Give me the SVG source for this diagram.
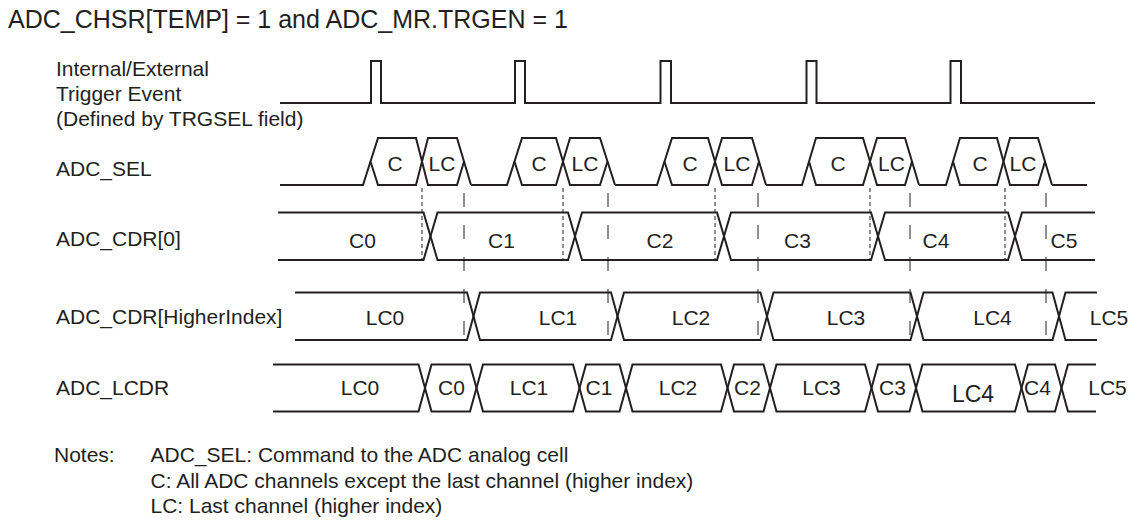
<svg xmlns="http://www.w3.org/2000/svg" width="1137" height="520" viewBox="0 0 1137 520">
<style>
  text { font-family: "Liberation Sans", Arial, sans-serif; fill: #231f20; }
  .lbl { font-size: 21px; }
  .ttl { font-size: 25px; }
  .mid { text-anchor: middle; }
  .wave { fill: none; stroke: #231f20; stroke-width: 2; stroke-linejoin: miter; }
  .sdash { stroke: #231f20; stroke-width: 1; stroke-dasharray: 4 3; fill: none; }
  .ldash { stroke: #231f20; stroke-width: 1; stroke-dasharray: 14 18; fill: none; }
</style>
<rect width="1137" height="520" fill="#ffffff"/>
<text class="ttl" x="8" y="28">ADC_CHSR[TEMP] = 1 and ADC_MR.TRGEN = 1</text>

<g id="trigger">
  <text class="lbl" x="56" y="76">Internal/External</text>
  <text class="lbl" x="56" y="101">Trigger Event</text>
  <text class="lbl" x="56" y="126">(Defined by TRGSEL field)</text>
  <path class="wave" d="M280,103 H371 V61 H381 V103 H515 V61 H525 V103 H660.5 V61 H671 V103 H806.5 V61 H816.5 V103 H950.5 V61 H961 V103 H1095"/>
</g>

<g id="adc_sel">
  <text class="lbl" x="56" y="176">ADC_SEL</text>
  <path class="wave" d="M280,185 H363 L378,138 H416 L428,185 H457 L464,161.5 M471,185 H507 L522,138 H556 L570,185 H600 L607.5,161.5 M615,185 H657 L672,138 H708 L722,185 H752 L759,161.5 M766,185 H802 L816,138 H863 L877,185 H905 L912,161.5 M919,185 H946 L960,138 H997 L1010,185 H1038 L1045,161.5 M1052,185 H1087"/>
  <path class="wave" d="M370.5,161.5 L378,185 H416 L428,138 H457 L471,185 M514.5,161.5 L522,185 H556 L570,138 H600 L615,185 M664.5,161.5 L672,185 H708 L722,138 H752 L766,185 M809,161.5 L816,185 H863 L877,138 H905 L919,185 M953,161.5 L960,185 H997 L1010,138 H1038 L1052,185"/>
  <g class="lbl mid">
    <text x="395" y="170.5">C</text><text x="442" y="170.5">LC</text>
    <text x="539" y="170.5">C</text><text x="585" y="170.5">LC</text>
    <text x="690" y="170.5">C</text><text x="737" y="170.5">LC</text>
    <text x="838" y="170.5">C</text><text x="891.5" y="170.5">LC</text>
    <text x="980" y="170.5">C</text><text x="1023" y="170.5">LC</text>
  </g>
</g>

<g id="adc_cdr0">
  <text class="lbl" x="56" y="246">ADC_CDR[0]</text>
  <polyline class="wave" points="278,212.5 423.5,212.5 437.5,260 568,260 582,212.5 717,212.5 731,260 871,260 885,212.5 1008,212.5 1022,260 1095,260"/>
  <polyline class="wave" points="278,260 423.5,260 437.5,212.5 568,212.5 582,260 717,260 731,212.5 871,212.5 885,260 1008,260 1022,212.5 1095,212.5"/>
  <g class="lbl mid">
    <text x="362.5" y="248">C0</text>
    <text x="501.5" y="248">C1</text>
    <text x="660" y="248">C2</text>
    <text x="797.5" y="248">C3</text>
    <text x="936" y="248">C4</text>
    <text x="1064" y="248">C5</text>
  </g>
</g>

<g id="adc_cdr_hi">
  <text class="lbl" x="56" y="324">ADC_CDR[HigherIndex]</text>
  <polyline class="wave" points="295,292.5 467,292.5 480,340 611,340 624,292.5 760.5,292.5 773.5,340 910.5,340 923.5,292.5 1052.5,292.5 1065.5,340 1097,340"/>
  <polyline class="wave" points="295,340 467,340 480,292.5 611,292.5 624,340 760.5,340 773.5,292.5 910.5,292.5 923.5,340 1052.5,340 1065.5,292.5 1097,292.5"/>
  <g class="lbl mid">
    <text x="385" y="325">LC0</text>
    <text x="558" y="325">LC1</text>
    <text x="691" y="325">LC2</text>
    <text x="846" y="325">LC3</text>
    <text x="992.5" y="325">LC4</text>
    <text x="1109" y="325">LC5</text>
  </g>
</g>

<g id="adc_lcdr">
  <text class="lbl" x="56" y="395">ADC_LCDR</text>
  <polyline class="wave" points="273,364.5 418.5,364.5 431.5,411.5 470,411.5 483,364.5 573,364.5 586,411.5 619.5,411.5 632.5,364.5 721,364.5 734,411.5 763.5,411.5 776.5,364.5 865,364.5 878,411.5 909.5,411.5 922.5,364.5 1015,364.5 1028,411.5 1055,411.5 1068,364.5 1096,364.5"/>
  <polyline class="wave" points="273,411.5 418.5,411.5 431.5,364.5 470,364.5 483,411.5 573,411.5 586,364.5 619.5,364.5 632.5,411.5 721,411.5 734,364.5 763.5,364.5 776.5,411.5 865,411.5 878,364.5 909.5,364.5 922.5,411.5 1015,411.5 1028,364.5 1055,364.5 1068,411.5 1096,411.5"/>
  <g class="lbl mid">
    <text x="360" y="395">LC0</text>
    <text x="451.5" y="395">C0</text>
    <text x="529" y="395">LC1</text>
    <text x="599" y="395">C1</text>
    <text x="678" y="395">LC2</text>
    <text x="747.5" y="395">C2</text>
    <text x="821.5" y="395">LC3</text>
    <text x="892.5" y="395">C3</text>
    <text x="973" y="401.5" style="font-size:23px">LC4</text>
    <text x="1037.5" y="395">C4</text>
    <text x="1107.5" y="395">LC5</text>
  </g>
</g>

<g id="connectors">
  <line class="sdash" x1="422" y1="188" x2="422" y2="260"/>
  <line class="sdash" x1="563" y1="188" x2="563" y2="260"/>
  <line class="sdash" x1="715" y1="188" x2="715" y2="260"/>
  <line class="sdash" x1="870" y1="188" x2="870" y2="260"/>
  <line class="sdash" x1="1005" y1="188" x2="1005" y2="260"/>
  <line class="ldash" x1="464" y1="193" x2="464" y2="338"/>
  <line class="ldash" x1="608" y1="193" x2="608" y2="338"/>
  <line class="ldash" x1="758" y1="193" x2="758" y2="338"/>
  <line class="ldash" x1="910" y1="193" x2="910" y2="338"/>
  <line class="ldash" x1="1046" y1="193" x2="1046" y2="338"/>
</g>

<g id="notes">
  <text class="lbl" x="54" y="462">Notes:</text>
  <text class="lbl" x="150.5" y="462">ADC_SEL: Command to the ADC analog cell</text>
  <text class="lbl" x="150.5" y="487.5">C: All ADC channels except the last channel (higher index)</text>
  <text class="lbl" x="150.5" y="513">LC: Last channel (higher index)</text>
</g>
</svg>
